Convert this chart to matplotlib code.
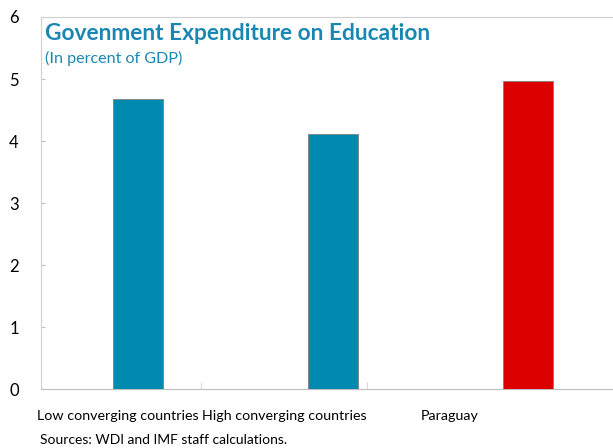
import matplotlib.pyplot as plt

# bar data
groups = ["Low converging countries", "High converging countries", "Paraguay"]
spending = [4.67, 4.11, 4.96]
bar_colors = ["#008aaf", "#008aaf", "#dc0000"]
y_ticks = [0, 1, 2, 3, 4, 5, 6]

plt.rcParams["font.family"] = ["Lato", "DejaVu Sans"]

fig = plt.figure(figsize=(6.13, 4.48), dpi=100)
ax = fig.add_axes([41 / 613, 59 / 448, 584.5 / 613, 372 / 448])

x = list(range(len(groups)))
ax.bar(x, spending, width=0.256, color=bar_colors, edgecolor="#7f7f7f", linewidth=0.6, zorder=3)
ax.set_xlim(-0.5, 2.5)
ax.set_ylim(0, 6)
ax.set_yticks(y_ticks)
ax.tick_params(axis="y", direction="in", length=3, color="#bfbfbf", pad=16, labelsize=12)
ax.set_xticks([])
for side in ["left", "top", "right"]:
    ax.spines[side].set_color("#d0d0d0")
    ax.spines[side].set_linewidth(0.8)
ax.spines["bottom"].set_color("#bfbfbf")
ax.spines["bottom"].set_linewidth(0.8)

# category labels sit on their own evenly spaced axis
cat = ax.twiny()
cat.set_xlim(-0.464, 3.057)
cat.xaxis.set_ticks_position("bottom")
cat.set_xticks(x)
cat.set_xticklabels(groups, fontsize=10.3)
cat.set_xticks([0.5, 1.5], minor=True)
cat.tick_params(axis="x", which="major", length=0, pad=15)
cat.tick_params(axis="x", which="minor", direction="in", length=5, color="#d0d0d0")
for s in cat.spines.values():
    s.set_visible(False)

fig.text(45 / 613, 1 - 33 / 448, "Govenment Expenditure on Education", fontsize=16.4,
         fontweight="bold", color="#1a87b3", va="center")
fig.text(45 / 613, 1 - 58 / 448, "(In percent of GDP)", fontsize=11.6, color="#1a87b3", va="center")
fig.text(40 / 613, 1 - 440 / 448, "Sources: WDI and IMF staff calculations.", fontsize=10, va="center")

fig.savefig("out.png", dpi=100)
